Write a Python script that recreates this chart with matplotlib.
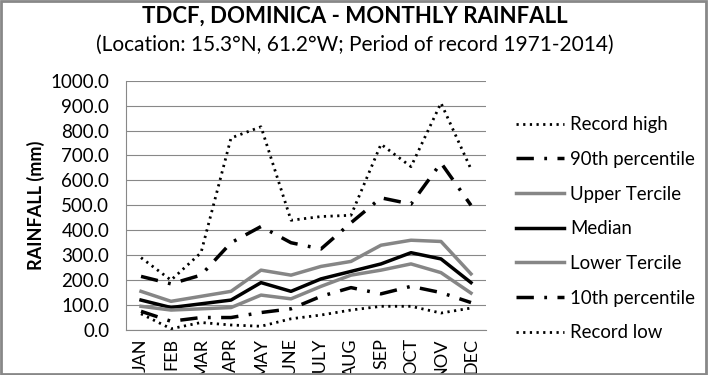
import matplotlib
matplotlib.use('Agg')
import matplotlib.pyplot as plt
from matplotlib.patches import Rectangle

plt.rcParams['font.family'] = ['Lato', 'DejaVu Sans']

months = ['JAN', 'FEB', 'MAR', 'APR', 'MAY', 'JUNE', 'JULY', 'AUG', 'SEP', 'OCT', 'NOV', 'DEC']

record_high = [290, 200, 310, 770, 815, 440, 455, 460, 745, 655, 910, 645]
p90 = [215, 185, 220, 350, 415, 350, 325, 430, 530, 505, 670, 500]
upper_tercile = [155, 115, 135, 155, 240, 220, 255, 275, 340, 360, 355, 225]
median = [120, 90, 105, 120, 190, 155, 205, 235, 265, 310, 285, 190]
lower_tercile = [95, 80, 85, 90, 140, 125, 175, 220, 240, 265, 230, 148]
p10 = [75, 35, 50, 50, 70, 85, 135, 170, 145, 175, 150, 110]
record_low = [65, 5, 30, 20, 15, 45, 60, 80, 95, 95, 68, 88]

fig = plt.figure(figsize=(7.1, 3.75), dpi=100)
ax = fig.add_axes([0.1775, 0.12, 0.507, 0.665])

x = range(len(months))
dashdot = (0, (5, 3, 0.8, 3))
dotted = (0, (0.8, 1.6))
ax.plot(x, record_high, color='black', lw=2, linestyle=dotted, label='Record high')
ax.plot(x, p90, color='black', lw=2.5, linestyle=dashdot, label='90th percentile')
ax.plot(x, upper_tercile, color='#868686', lw=2.5, label='Upper Tercile')
ax.plot(x, median, color='black', lw=2.5, label='Median')
ax.plot(x, lower_tercile, color='#868686', lw=2.5, label='Lower Tercile')
ax.plot(x, p10, color='black', lw=2.5, linestyle=dashdot, label='10th percentile')
ax.plot(x, record_low, color='black', lw=2, linestyle=dotted, label='Record low')

ax.set_xlim(-0.5, 11.5)
ax.set_ylim(0, 1000)
ax.set_yticks(range(0, 1001, 100))
ax.set_yticklabels([f'{v:.1f}' for v in range(0, 1001, 100)], fontsize=13.5)
ax.set_xticks(list(x))
ax.set_xticklabels(months, rotation=90, fontsize=13)
ax.tick_params(axis='y', length=0, pad=12)
ax.tick_params(axis='x', length=0, pad=6)
ax.grid(axis='y', color='#888888', lw=0.8)
ax.set_axisbelow(True)
for s in ['top', 'right']:
    ax.spines[s].set_visible(False)
for s in ['left', 'bottom']:
    ax.spines[s].set_color('#888888')
ax.set_ylabel('RAINFALL (mm)', fontsize=13, fontweight='bold', labelpad=4)

ax.legend(loc='upper left', bbox_to_anchor=(0.716, 0.71), bbox_transform=fig.transFigure,
          frameon=False, fontsize=13.4, handlelength=2.6, handletextpad=0.3, labelspacing=0.95,
          borderaxespad=0)

fig.text(0.5, 0.958, 'TDCF, DOMINICA - MONTHLY RAINFALL', ha='center', va='center',
         fontsize=16, fontweight='bold')
fig.text(0.5, 0.88, '(Location: 15.3°N, 61.2°W; Period of record 1971-2014)', ha='center',
         va='center', fontsize=15)

fig.patches.append(Rectangle((0.002, 0.003), 0.993, 0.994, transform=fig.transFigure,
                             fill=False, edgecolor='#888888', lw=2))

fig.savefig('out.png', dpi=100)
